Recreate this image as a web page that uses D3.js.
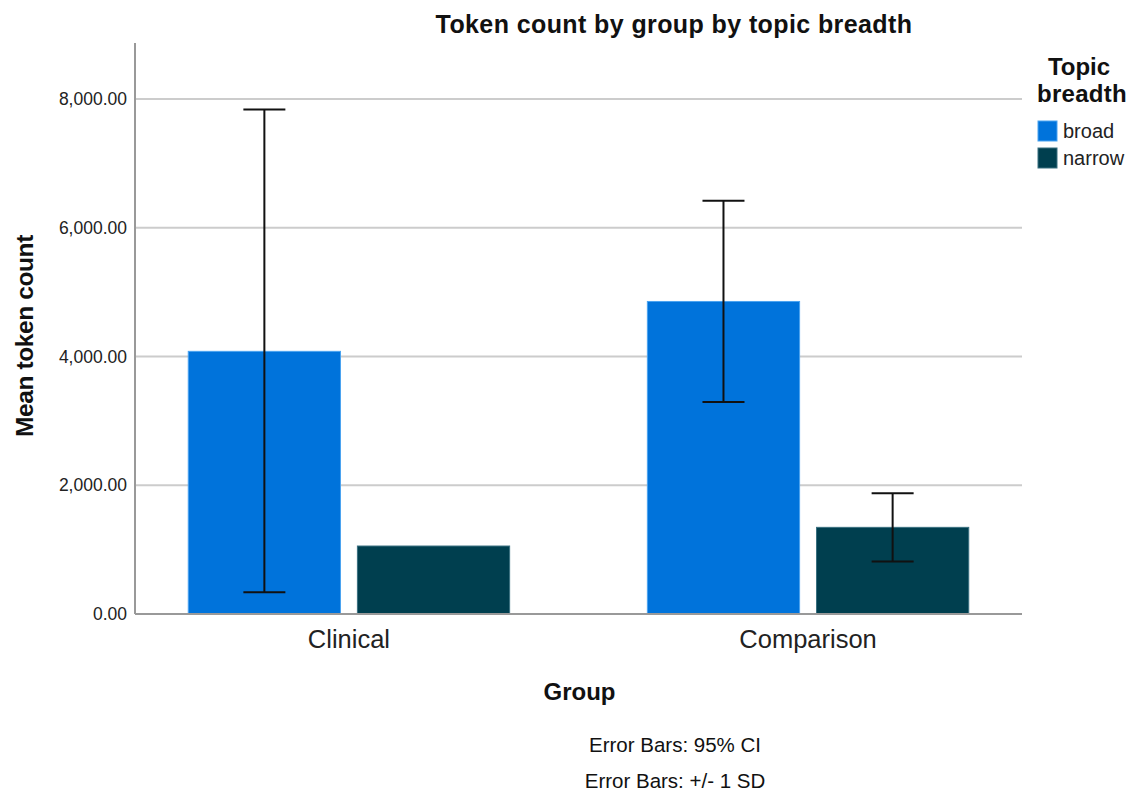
<!DOCTYPE html>
<html>
<head>
<meta charset="utf-8">
<script src="https://cdn.jsdelivr.net/npm/d3@7"></script>
<style>
  html, body { margin: 0; padding: 0; background: #fff; }
  svg { display: block; font-family: "Liberation Sans", Arial, sans-serif; }
</style>
</head>
<body>
<svg id="chart" width="1132" height="797"></svg>
<script>
// Mean token count per group, split by topic breadth
const groups = ["Clinical", "Comparison"];
const breadths = ["broad", "narrow"];
const broadMeans = [4080, 4855];
const narrowMeans = [1056, 1346];
// Error bar ends (null where no bar is shown)
const broadLow = [337, 3292];
const broadHigh = [7837, 6419];
const narrowLow = [null, 814];
const narrowHigh = [null, 1874];
const yTicks = [0, 2000, 4000, 6000, 8000];
const footnotes = ["Error Bars: 95% CI", "Error Bars: +/- 1 SD"];

const colors = { broad: "#0073db", narrow: "#003f4f" };
const edges = { broad: "#4aa3f0", narrow: "#3a7080" };

const svg = d3.select("#chart");
const plot = { left: 135, right: 1022, top: 43, bottom: 614 };

const y = d3.scaleLinear().domain([0, 8870]).range([plot.bottom, plot.top]);
const x = d3.scalePoint().domain(groups).range([plot.left, plot.right]).padding(0.466);
const groupWidth = 0.7 * x.step();
const xi = d3.scaleBand().domain(breadths)
  .range([-groupWidth / 2, groupWidth / 2]).paddingInner(0.1).paddingOuter(0);

// Gridlines
svg.append("g").selectAll("line")
  .data(yTicks.filter(d => d > 0))
  .join("line")
  .attr("x1", plot.left).attr("x2", plot.right)
  .attr("y1", d => y(d)).attr("y2", d => y(d))
  .attr("stroke", "#cccccc").attr("stroke-width", 2);

// Y axis
const yAxis = svg.append("g")
  .attr("transform", `translate(${plot.left},0)`)
  .call(d3.axisLeft(y).tickValues(yTicks).tickFormat(d3.format(",.2f")).tickSize(0).tickPadding(8));
yAxis.select(".domain").remove();
yAxis.selectAll("text")
  .attr("fill", "#222").style("font-size", "17.5px")
  .style("font-family", "\"Liberation Sans\", Arial, sans-serif");
svg.append("line")
  .attr("x1", plot.left).attr("x2", plot.left)
  .attr("y1", plot.top).attr("y2", plot.bottom)
  .attr("stroke", "#999").attr("stroke-width", 2);

// Bars
const rows = [];
groups.forEach((g, i) => {
  rows.push({ group: g, breadth: "broad", mean: broadMeans[i], lo: broadLow[i], hi: broadHigh[i] });
  rows.push({ group: g, breadth: "narrow", mean: narrowMeans[i], lo: narrowLow[i], hi: narrowHigh[i] });
});

svg.append("g").selectAll("rect")
  .data(rows)
  .join("rect")
  .attr("x", d => x(d.group) + xi(d.breadth))
  .attr("width", xi.bandwidth())
  .attr("y", d => y(d.mean))
  .attr("height", d => y(0) - y(d.mean))
  .attr("fill", d => colors[d.breadth])
  .attr("stroke", d => edges[d.breadth])
  .attr("stroke-width", 1);

// X axis line
svg.append("line")
  .attr("x1", plot.left).attr("x2", plot.right)
  .attr("y1", plot.bottom).attr("y2", plot.bottom)
  .attr("stroke", "#999").attr("stroke-width", 2);

// Error bars
const cap = 21;
const eb = svg.append("g").attr("stroke", "#111").attr("stroke-width", 2).attr("fill", "none")
  .selectAll("g")
  .data(rows.filter(d => d.lo !== null))
  .join("g")
  .attr("transform", d => `translate(${x(d.group) + xi(d.breadth) + xi.bandwidth() / 2},0)`);
eb.append("line").attr("x1", 0).attr("x2", 0).attr("y1", d => y(d.lo)).attr("y2", d => y(d.hi));
eb.append("line").attr("x1", -cap).attr("x2", cap).attr("y1", d => y(d.hi)).attr("y2", d => y(d.hi));
eb.append("line").attr("x1", -cap).attr("x2", cap).attr("y1", d => y(d.lo)).attr("y2", d => y(d.lo));

// Category labels
svg.append("g").selectAll("text")
  .data(groups)
  .join("text")
  .attr("x", d => x(d)).attr("y", 648)
  .attr("text-anchor", "middle")
  .attr("fill", "#222").style("font-size", "25.5px")
  .text(d => d);

// Titles
svg.append("text")
  .attr("x", 674).attr("y", 33).attr("text-anchor", "middle")
  .style("font-size", "25px").style("font-weight", "bold").attr("fill", "#111")
  .style("letter-spacing", "0.4px")
  .text("Token count by group by topic breadth");

svg.append("text")
  .attr("x", (plot.left + plot.right) / 2 + 1).attr("y", 700).attr("text-anchor", "middle")
  .style("font-size", "24px").style("font-weight", "bold").attr("fill", "#111")
  .text("Group");

svg.append("text")
  .attr("transform", `translate(33,336) rotate(-90)`)
  .attr("text-anchor", "middle")
  .style("font-size", "24.5px").style("font-weight", "bold").attr("fill", "#111")
  .style("letter-spacing", "-0.4px")
  .text("Mean token count");

// Footnotes
svg.append("g").selectAll("text")
  .data(footnotes)
  .join("text")
  .attr("x", 675).attr("y", (d, i) => 752 + i * 36)
  .attr("text-anchor", "middle")
  .attr("fill", "#111").style("font-size", "20.5px")
  .text(d => d);

// Legend
const legend = svg.append("g");
legend.append("text")
  .attr("x", 1079).attr("y", 75).attr("text-anchor", "middle")
  .style("font-size", "24px").style("font-weight", "bold").attr("fill", "#111")
  .text("Topic");
legend.append("text")
  .attr("x", 1082).attr("y", 102).attr("text-anchor", "middle")
  .style("font-size", "24px").style("font-weight", "bold").attr("fill", "#111")
  .style("letter-spacing", "0.3px")
  .text("breadth");
const items = legend.selectAll("g.item")
  .data(breadths)
  .join("g")
  .attr("class", "item")
  .attr("transform", (d, i) => `translate(1038,${121 + i * 27})`);
items.append("rect")
  .attr("width", 19).attr("height", 20)
  .attr("fill", d => colors[d]).attr("stroke", d => edges[d]).attr("stroke-width", 1);
items.append("text")
  .attr("x", 25).attr("y", 17)
  .attr("fill", "#222").style("font-size", "20px")
  .text(d => d);
</script>
</body>
</html>
